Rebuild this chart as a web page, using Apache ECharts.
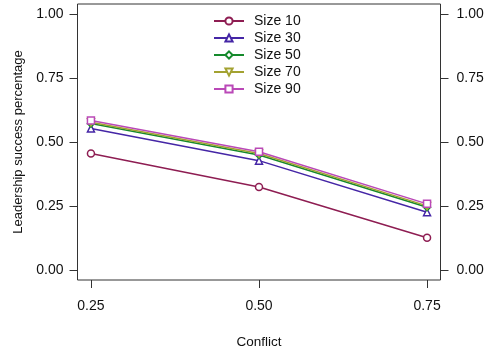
<!DOCTYPE html>
<html><head><meta charset="utf-8">
<script src="https://cdn.jsdelivr.net/npm/echarts@6/dist/echarts.min.js"></script>
<style>html,body{margin:0;padding:0;background:#fff}#c{width:489px;height:354px}</style>
</head><body><div id="c"></div>
<script>
var conflict = [0.25, 0.50, 0.75];
var seriesNames = ['Size 10', 'Size 30', 'Size 50', 'Size 70', 'Size 90'];
var size10 = [0.455, 0.324, 0.125];
var size30 = [0.553, 0.427, 0.225];
var size50 = [0.572, 0.449, 0.245];
var size70 = [0.577, 0.455, 0.250];
var size90 = [0.584, 0.462, 0.258];
var yTicks = [0, 0.25, 0.5, 0.75, 1.0];
var xTicks = [0.25, 0.5, 0.75];

var colors = ['#8E1D52', '#4526A6', '#158A2C', '#A3A231', '#BA48B7'];
var symbols = ['circle', 'triangle', 'diamond', 'triangle', 'rect'];
var rot = [0, 0, 0, 180, 0];
var values = [size10, size30, size50, size70, size90];
var font = 'Liberation Sans, Arial, sans-serif';

var series = seriesNames.map(function (n, i) {
  return {
    name: n, type: 'line',
    data: conflict.map(function (x, j) { return [x, values[i][j]]; }),
    symbol: symbols[i], symbolRotate: rot[i], symbolSize: 7,
    showAllSymbol: true,
    lineStyle: { color: colors[i], width: 1.5 },
    itemStyle: { color: '#fff', borderColor: colors[i], borderWidth: 1.5 },
    emphasis: { disabled: true },
    animation: false, z: 2 + i
  };
});

var chart = echarts.init(document.getElementById('c'), null, { renderer: 'canvas' });
chart.setOption({
  animation: false,
  textStyle: { fontFamily: font },
  grid: { left: 77.5, right: 48.5, top: 4, bottom: 73.5, show: true, borderColor: '#333', borderWidth: 1, backgroundColor: 'transparent' },
  legend: {
    orient: 'vertical', left: 208, top: 9, itemWidth: 30, itemHeight: 9, itemGap: 3,
    textStyle: { fontSize: 14, color: '#111', fontFamily: font, padding: [0, 0, 0, 5] },
    data: seriesNames
  },
  xAxis: {
    type: 'value', min: 0.23, max: 0.77,
    name: 'Conflict', nameLocation: 'middle', nameGap: 55,
    nameTextStyle: { fontSize: 13.5, color: '#111' },
    axisLine: { show: false, onZero: false }, splitLine: { show: false },
    axisTick: { show: true, inside: false, length: 8, customValues: xTicks, lineStyle: { color: '#333' } },
    axisLabel: { customValues: xTicks, margin: 19, fontSize: 14, color: '#111',
      formatter: function (v) { return v.toFixed(2); } }
  },
  yAxis: [{
    type: 'value', min: -0.04, max: 1.04, position: 'left',
    name: 'Leadership success percentage', nameLocation: 'middle', nameGap: 50,
    nameTextStyle: { fontSize: 13, color: '#111' },
    axisLine: { show: false, onZero: false }, splitLine: { show: false },
    axisTick: { show: true, inside: false, length: 8, customValues: yTicks, lineStyle: { color: '#333' } },
    axisLabel: { customValues: yTicks, margin: 14, fontSize: 14, color: '#111',
      formatter: function (v) { return v.toFixed(2); } }
  }, {
    type: 'value', min: -0.04, max: 1.04, position: 'right',
    axisLine: { show: false, onZero: false }, splitLine: { show: false },
    axisTick: { show: true, inside: false, length: 8, customValues: yTicks, lineStyle: { color: '#333' } },
    axisLabel: { customValues: yTicks, margin: 16, fontSize: 14, color: '#111',
      formatter: function (v) { return v.toFixed(2); } }
  }],
  series: series
});
</script></body></html>
